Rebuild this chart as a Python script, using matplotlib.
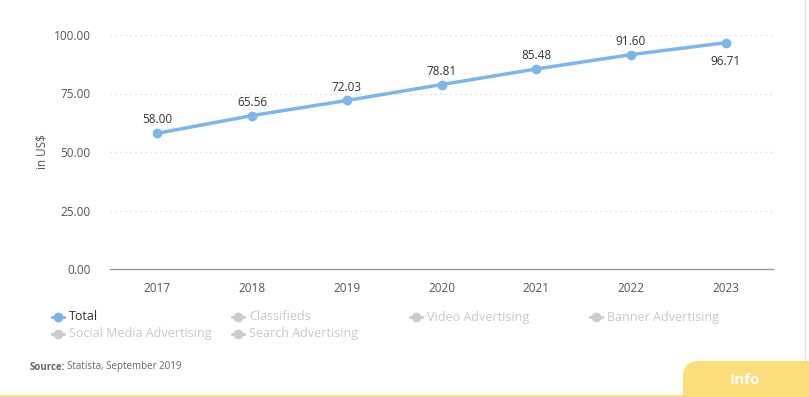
import matplotlib.pyplot as plt
import matplotlib.patches as patches

years = ["2017", "2018", "2019", "2020", "2021", "2022", "2023"]
total = [58.00, 65.56, 72.03, 78.81, 85.48, 91.60, 96.71]
yticks = [0, 25, 50, 75, 100]
legend_names = ["Total", "Classifieds", "Video Advertising", "Banner Advertising",
                "Social Media Advertising", "Search Advertising"]

plt.rcParams['font.family'] = ['Open Sans', 'DejaVu Sans']

W, H = 809, 397
fig = plt.figure(figsize=(W / 100, H / 100), dpi=100)
ax = fig.add_axes([110 / W, 1 - 269 / H, (773 - 110) / W, (269 - 35) / H])

blue = "#7cb5ec"
x = list(range(len(years)))
ax.plot(x, total, color=blue, lw=2.5, marker="o", ms=6, zorder=3, clip_on=False)

# value labels
for i, v in enumerate(total):
    if i == len(total) - 1:
        ax.annotate("%.2f" % v, (i, v), xytext=(0, -9), textcoords="offset points",
                    ha="center", va="top", fontsize=8.5, color="#333333")
    else:
        ax.annotate("%.2f" % v, (i, v), xytext=(0, 5), textcoords="offset points",
                    ha="center", va="bottom", fontsize=8.5, color="#333333")

ax.set_xlim(-0.5, len(years) - 0.5)
ax.set_ylim(0, 100)
ax.set_xticks(x)
ax.set_xticklabels(years)
ax.set_yticks(yticks)
ax.set_yticklabels(["%.2f" % t for t in yticks])
ax.tick_params(axis="both", length=0, labelsize=8.5, labelcolor="#555555")
ax.tick_params(axis="x", pad=9)
ax.tick_params(axis="y", pad=14)
for t in yticks[1:]:
    ax.axhline(t, color="#d8d8d8", lw=0.9, ls=(0, (1, 3)), zorder=1)
for s in ["top", "right", "left"]:
    ax.spines[s].set_visible(False)
ax.spines["bottom"].set_color("#999999")
ax.spines["bottom"].set_linewidth(1)
ax.set_ylabel("in US$", fontsize=8.5, color="#555555", labelpad=4)

# legend
leg_pos = [(58, 317), (238, 317), (416, 317), (596, 317), (58, 334), (238, 334)]
for i, (name, (px, py)) in enumerate(zip(legend_names, leg_pos)):
    col = blue if i == 0 else "#cccccc"
    tcol = "#333333" if i == 0 else "#c8c8c8"
    fx, fy = px / W, 1 - py / H
    fig.add_artist(plt.Line2D([fx - 6 / W, fx + 6 / W], [fy, fy], color=col, lw=2,
                              transform=fig.transFigure))
    fig.add_artist(plt.Line2D([fx], [fy], color=col, marker="o", ms=6,
                              transform=fig.transFigure))
    fig.text(fx + 11 / W, fy, name, fontsize=9, color=tcol, va="center", ha="left")

fig.text(30 / W, 1 - 367 / H, "Source:", fontsize=7, color="#666666",
         fontweight="bold", va="center")
fig.text(67 / W, 1 - 367 / H, "Statista, September 2019", fontsize=7,
         color="#666666", va="center")

# info box and frame lines
yellow = "#fddc7a"
box = patches.FancyBboxPatch((683 / W, -0.05), 140 / W, 0.05 + 36 / H,
                             boxstyle="round,pad=0,rounding_size=0.02",
                             transform=fig.transFigure, facecolor=yellow,
                             edgecolor="none", mutation_aspect=W / H)
fig.add_artist(box)
fig.text(745 / W, 1 - 380 / H, "Info", fontsize=11, color="white",
         fontweight="bold", ha="center", va="center")
fig.add_artist(plt.Line2D([0, 1], [1.5 / H, 1.5 / H], color=yellow, lw=2,
                          transform=fig.transFigure))
fig.add_artist(plt.Line2D([805 / W, 805 / W], [1 - 360 / H, 1], color="#dddddd",
                          lw=1, transform=fig.transFigure))

fig.savefig("out.png", dpi=100)
